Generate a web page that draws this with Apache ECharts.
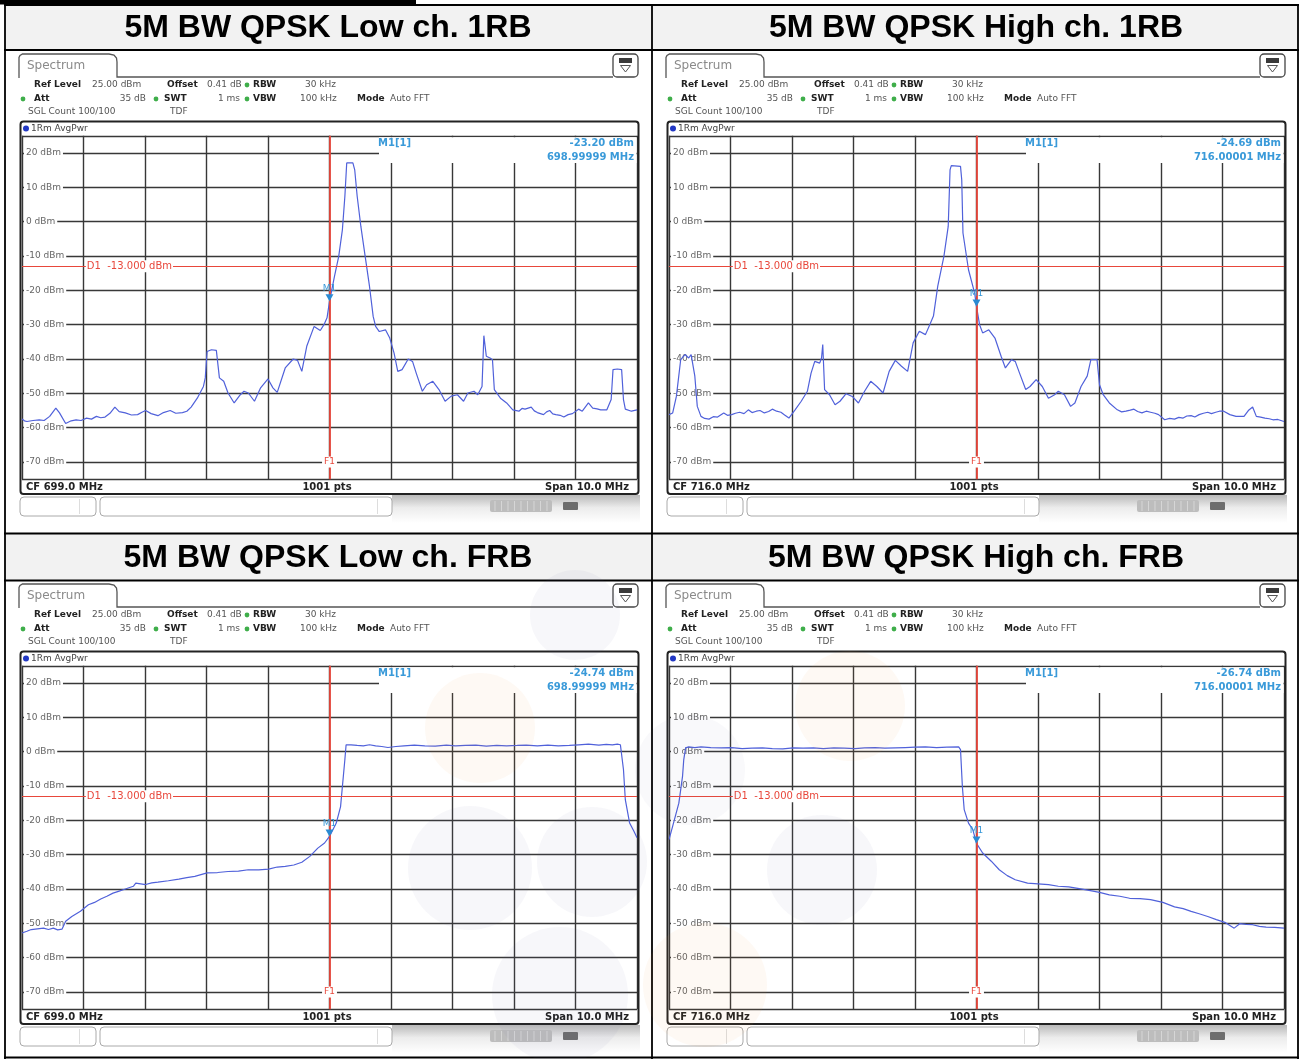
<!DOCTYPE html>
<html><head><meta charset="utf-8">
<script src="https://cdn.jsdelivr.net/npm/echarts@6/dist/echarts.min.js"></script>
<style>html,body{margin:0;padding:0;background:#fff;}#c{width:1301px;height:1059px;}</style>
</head><body><div id="c"></div><script>
// ---------------- data ----------------
const titles = ['5M BW QPSK Low ch. 1RB', '5M BW QPSK High ch. 1RB', '5M BW QPSK Low ch. FRB', '5M BW QPSK High ch. FRB'];
const centerFreqs = [699, 716, 699, 716];
const spanMHz = 10;
const cfLabels = ['CF 699.0 MHz', 'CF 716.0 MHz', 'CF 699.0 MHz', 'CF 716.0 MHz'];
const markerLevels = [-23.20, -24.69, -24.74, -26.74];
const markerFreqLabels = ['698.99999 MHz', '716.00001 MHz', '698.99999 MHz', '716.00001 MHz'];
const limitLevel = -13;
const refLevel = 25;
const bottomLevel = -75;

const traceLow1RB = [[694.00,-57.5],[694.04,-58.0],[694.08,-58.2],[694.18,-57.9],[694.28,-57.7],[694.36,-57.9],[694.45,-56.7],[694.55,-54.3],[694.61,-55.7],[694.71,-58.8],[694.80,-58.0],[694.88,-57.7],[694.96,-57.9],[695.05,-57.2],[695.13,-57.5],[695.21,-56.7],[695.28,-57.1],[695.35,-56.9],[695.43,-55.8],[695.51,-54.0],[695.58,-55.3],[695.68,-55.7],[695.78,-56.3],[695.88,-56.2],[695.95,-55.5],[696.01,-55.0],[696.10,-55.9],[696.21,-56.5],[696.30,-55.6],[696.41,-55.0],[696.50,-55.8],[696.61,-55.6],[696.68,-55.2],[696.75,-54.0],[696.85,-51.4],[696.95,-48.0],[696.98,-45.5],[697.01,-37.8],[697.08,-37.3],[697.16,-37.5],[697.21,-45.5],[697.28,-46.5],[697.35,-49.9],[697.45,-52.8],[697.55,-50.4],[697.61,-49.4],[697.68,-49.9],[697.78,-52.3],[697.88,-48.4],[698.00,-45.8],[698.08,-48.4],[698.15,-49.7],[698.28,-42.6],[698.41,-40.0],[698.48,-40.4],[698.55,-43.6],[698.63,-36.3],[698.75,-30.5],[698.85,-31.7],[698.91,-30.0],[698.96,-28.0],[699.00,-23.2],[699.08,-16.0],[699.15,-10.1],[699.21,-2.3],[699.25,7.4],[699.28,17.1],[699.31,17.3],[699.38,17.1],[699.41,15.1],[699.45,7.4],[699.51,-1.4],[699.58,-10.1],[699.65,-18.8],[699.71,-27.6],[699.75,-30.5],[699.81,-32.0],[699.91,-31.5],[699.98,-33.9],[700.05,-38.3],[700.11,-43.6],[700.18,-43.1],[700.28,-40.0],[700.35,-40.7],[700.41,-44.1],[700.51,-49.4],[700.58,-47.5],[700.68,-46.5],[700.78,-48.9],[700.88,-52.3],[700.98,-50.8],[701.08,-50.4],[701.18,-52.3],[701.25,-49.9],[701.35,-49.4],[701.41,-50.4],[701.48,-48.0],[701.51,-33.2],[701.55,-39.2],[701.61,-39.7],[701.65,-40.2],[701.68,-48.9],[701.78,-51.4],[701.88,-52.8],[701.98,-54.8],[702.08,-55.2],[702.13,-54.4],[702.18,-54.6],[702.28,-54.0],[702.33,-55.1],[702.38,-55.6],[702.48,-56.2],[702.53,-55.4],[702.58,-55.0],[702.63,-56.0],[702.68,-56.2],[702.75,-56.4],[702.81,-56.9],[702.88,-56.2],[702.95,-55.9],[703.05,-54.6],[703.11,-55.2],[703.21,-52.8],[703.28,-54.3],[703.35,-54.5],[703.41,-54.8],[703.51,-54.8],[703.58,-51.8],[703.61,-43.1],[703.68,-42.9],[703.75,-43.1],[703.78,-51.8],[703.81,-54.6],[703.91,-55.2],[704.00,-54.8]];

const traceHigh1RB = [[711.00,-56.2],[711.06,-55.7],[711.12,-50.9],[711.19,-40.2],[711.26,-38.7],[711.32,-39.7],[711.36,-38.7],[711.39,-39.2],[711.42,-45.0],[711.46,-53.8],[711.52,-56.7],[711.58,-57.3],[711.65,-57.5],[711.72,-56.8],[711.79,-56.9],[711.89,-55.7],[711.95,-56.4],[712.02,-56.2],[712.08,-55.8],[712.15,-55.5],[712.22,-55.9],[712.29,-54.8],[712.35,-55.6],[712.42,-55.2],[712.48,-55.0],[712.55,-55.7],[712.62,-55.3],[712.68,-54.6],[712.75,-55.2],[712.82,-55.5],[712.88,-56.3],[712.95,-57.2],[713.05,-54.8],[713.15,-52.3],[713.25,-49.4],[713.31,-44.1],[713.37,-40.7],[713.45,-41.2],[713.48,-39.7],[713.50,-35.8],[713.53,-48.9],[713.61,-50.4],[713.70,-53.3],[713.78,-52.3],[713.88,-50.1],[713.98,-50.9],[714.08,-52.8],[714.18,-49.4],[714.28,-46.5],[714.38,-48.0],[714.48,-49.9],[714.58,-43.6],[714.68,-40.4],[714.78,-42.1],[714.88,-43.6],[714.97,-35.3],[715.07,-31.9],[715.17,-32.9],[715.24,-30.0],[715.30,-27.5],[715.37,-18.8],[715.47,-10.1],[715.54,-1.4],[715.57,15.1],[715.59,16.3],[715.74,16.1],[715.76,12.2],[715.78,-3.3],[715.87,-14.0],[715.97,-20.8],[716.00,-24.7],[716.05,-30.0],[716.10,-32.4],[716.20,-31.5],[716.30,-33.9],[716.40,-39.2],[716.47,-42.6],[716.57,-40.2],[716.63,-40.7],[716.70,-44.1],[716.80,-48.9],[716.87,-48.0],[716.97,-46.0],[717.07,-48.0],[717.17,-51.4],[717.27,-50.4],[717.33,-49.4],[717.43,-50.4],[717.53,-53.8],[717.60,-52.8],[717.70,-48.0],[717.80,-45.0],[717.86,-40.2],[717.96,-40.2],[718.00,-47.5],[718.06,-50.4],[718.16,-52.8],[718.29,-54.8],[718.36,-55.4],[718.43,-55.2],[718.50,-54.9],[718.56,-54.6],[718.62,-55.3],[718.69,-55.7],[718.76,-55.2],[718.83,-55.5],[718.90,-55.8],[718.96,-56.2],[719.06,-57.7],[719.14,-57.3],[719.22,-57.5],[719.29,-57.0],[719.36,-57.2],[719.42,-56.6],[719.49,-56.5],[719.55,-56.9],[719.62,-56.2],[719.69,-55.8],[719.76,-55.5],[719.82,-55.9],[719.89,-55.5],[719.95,-55.2],[720.02,-55.2],[720.12,-56.2],[720.22,-56.7],[720.35,-56.7],[720.42,-55.0],[720.49,-54.0],[720.55,-56.7],[720.62,-56.9],[720.69,-57.2],[720.76,-57.4],[720.82,-57.7],[720.90,-57.6],[721.00,-58.2]];

const traceLowFRB = [[694.00,-52.8],[694.08,-52.3],[694.15,-51.8],[694.25,-51.6],[694.35,-51.4],[694.43,-51.8],[694.51,-51.4],[694.58,-51.9],[694.65,-51.7],[694.71,-49.4],[694.81,-48.0],[694.95,-46.5],[695.08,-44.6],[695.18,-43.9],[695.28,-42.9],[695.38,-42.1],[695.48,-41.2],[695.58,-40.6],[695.68,-40.0],[695.81,-39.2],[695.85,-38.3],[696.01,-38.7],[696.11,-38.2],[696.21,-38.0],[696.38,-37.6],[696.55,-37.1],[696.68,-36.7],[696.81,-36.3],[697.01,-35.3],[697.18,-35.2],[697.35,-34.9],[697.52,-34.8],[697.68,-34.4],[697.85,-34.4],[698.01,-34.2],[698.15,-33.6],[698.28,-33.4],[698.42,-33.0],[698.55,-32.2],[698.68,-30.5],[698.81,-28.1],[698.92,-26.6],[699.00,-24.7],[699.11,-20.8],[699.18,-16.0],[699.21,-10.1],[699.25,-2.3],[699.27,2.0],[699.35,2.0],[699.45,1.8],[699.55,1.7],[699.65,2.0],[699.75,1.7],[699.85,1.5],[699.95,1.2],[700.08,1.5],[700.21,1.7],[700.38,1.9],[700.55,1.7],[700.72,1.6],[700.90,1.9],[701.05,1.7],[701.21,1.8],[701.38,1.9],[701.55,1.6],[701.72,1.8],[701.88,1.7],[702.05,1.8],[702.20,1.9],[702.38,1.7],[702.55,1.9],[702.72,1.7],[702.90,1.8],[703.05,2.0],[703.21,2.2],[703.38,1.9],[703.50,2.1],[703.60,2.0],[703.68,2.2],[703.73,2.0],[703.78,-5.2],[703.81,-14.0],[703.88,-20.8],[703.95,-23.2],[704.00,-25.1]];

const traceHighFRB = [[711.00,-25.6],[711.06,-21.7],[711.16,-15.0],[711.22,-7.2],[711.24,-2.3],[711.27,1.1],[711.32,1.4],[711.42,1.2],[711.52,1.4],[711.68,1.2],[711.85,1.1],[712.02,1.2],[712.19,0.9],[712.35,1.0],[712.52,1.1],[712.68,0.9],[712.85,0.8],[713.02,1.1],[713.18,1.0],[713.35,1.1],[713.51,0.9],[713.68,1.1],[713.85,1.0],[714.02,0.9],[714.18,1.1],[714.35,1.2],[714.51,1.0],[714.68,1.1],[714.84,1.2],[715.00,1.3],[715.17,1.4],[715.35,1.2],[715.52,1.3],[715.71,1.4],[715.74,0.6],[715.77,-10.1],[715.80,-16.9],[715.87,-20.8],[715.94,-22.7],[716.00,-26.7],[716.10,-29.5],[716.24,-31.9],[716.37,-34.4],[716.50,-36.1],[716.63,-37.3],[716.83,-38.3],[717.00,-38.5],[717.17,-38.7],[717.33,-39.2],[717.50,-39.4],[717.67,-39.9],[717.83,-40.4],[718.00,-41.0],[718.16,-41.7],[718.33,-42.1],[718.49,-42.7],[718.66,-42.8],[718.83,-43.1],[719.03,-43.9],[719.22,-45.2],[719.36,-45.7],[719.49,-46.5],[719.62,-47.2],[719.76,-48.0],[719.90,-48.9],[720.05,-49.8],[720.19,-51.4],[720.28,-50.1],[720.38,-50.3],[720.49,-50.4],[720.60,-50.9],[720.71,-51.1],[720.85,-51.2],[721.00,-51.4]];

const traces = [traceLow1RB, traceHigh1RB, traceLowFRB, traceHighFRB];

// ---------------- layout ----------------
const PDX = [0, 647, 0, 647];
const PDY = [0, 0, 530, 530];
const GL = 22, GT = 135.8, GW = 615, GH = 343.4;
const UI = '"DejaVu Sans", sans-serif';
const TRACE = '#5061da', RED = '#e8473b', MBLUE = '#3a9ad9', GRID = '#383838';

function txt(x, y, text, font, fill, align, z) {
  return {type: 'text', x: x, y: y, z: z || 6, style: {text: text, font: font, fill: fill, textAlign: align || 'left', textVerticalAlign: 'middle'}};
}

function panelGroup(i) {
  const c = [];
  const b9 = 'bold 9px ' + UI, n9 = '9px ' + UI;
  c.push({type: 'polyline', z: 6, shape: {points: [[19,78],[19,57.5],[20,55.5],[22.5,54],[109,54],[114,55],[116.5,58],[117,62],[117,77],[613,77]]}, style: {stroke: '#555', lineWidth: 1.3, fill: null}});
  c.push(txt(27, 66, 'Spectrum', '12px ' + UI, '#8a8a8a'));
  c.push({type: 'rect', z: 6, shape: {x: 613, y: 54, width: 25, height: 23, r: 4}, style: {fill: '#fff', stroke: '#444', lineWidth: 1.3}});
  c.push({type: 'rect', z: 7, shape: {x: 619, y: 58, width: 13, height: 5}, style: {fill: '#3a3a3a'}});
  c.push({type: 'polygon', z: 7, shape: {points: [[620.5,65.5],[630.5,65.5],[625.5,72]]}, style: {fill: null, stroke: '#555', lineWidth: 1}});
  c.push(txt(34, 85, 'Ref Level', b9, '#222'));
  c.push(txt(92, 85, '25.00 dBm', n9, '#555'));
  c.push(txt(167, 85, 'Offset', b9, '#222'));
  c.push(txt(207, 85, '0.41 dB', n9, '#555'));
  c.push(txt(253, 85, 'RBW', b9, '#222'));
  c.push(txt(305, 85, '30 kHz', n9, '#555'));
  c.push(txt(34, 99, 'Att', b9, '#222'));
  c.push(txt(146, 99, '35 dB', n9, '#555', 'right'));
  c.push(txt(164, 99, 'SWT', b9, '#222'));
  c.push(txt(240, 99, '1 ms', n9, '#555', 'right'));
  c.push(txt(253, 99, 'VBW', b9, '#222'));
  c.push(txt(300, 99, '100 kHz', n9, '#555'));
  c.push(txt(357, 99, 'Mode', b9, '#222'));
  c.push(txt(390, 99, 'Auto FFT', n9, '#555'));
  c.push(txt(28, 112, 'SGL Count 100/100', n9, '#555'));
  c.push(txt(170, 112, 'TDF', n9, '#555'));
  [[247,85],[23,99],[156,99],[247,99]].forEach(p => c.push({type: 'circle', z: 6, shape: {cx: p[0], cy: p[1], r: 2.4}, style: {fill: '#3fae4a'}}));
  c.push({type: 'rect', z: 8, shape: {x: 20.5, y: 121.5, width: 618, height: 372.5, r: 3}, style: {fill: null, stroke: '#222', lineWidth: 2}});
  c.push({type: 'circle', z: 6, shape: {cx: 26, cy: 128.5, r: 3}, style: {fill: '#2238c4'}});
  c.push(txt(31, 128.5, '1Rm AvgPwr', n9, '#444'));
  c.push({type: 'rect', z: 1, shape: {x: 379, y: 137.2, width: 257.5, height: 25.8}, style: {fill: '#fff'}});
  c.push(txt(378, 143.5, 'M1[1]', 'bold 10px ' + UI, MBLUE));
  c.push(txt(634, 143.5, markerLevels[i].toFixed(2) + ' dBm', 'bold 10px ' + UI, MBLUE, 'right'));
  c.push(txt(634, 157, markerFreqLabels[i], 'bold 10px ' + UI, MBLUE, 'right'));
  c.push(txt(26, 487, cfLabels[i], 'bold 10px ' + UI, '#222'));
  c.push(txt(327, 487, '1001 pts', 'bold 10px ' + UI, '#222', 'center'));
  c.push(txt(629, 487, 'Span ' + spanMHz.toFixed(1) + ' MHz', 'bold 10px ' + UI, '#222', 'right'));
  c.push({type: 'rect', z: 5, shape: {x: 392, y: 495, width: 248, height: 28}, style: {fill: {type: 'linear', x: 0, y: 0, x2: 0, y2: 1, colorStops: [{offset: 0, color: '#b9b9b9'}, {offset: 0.45, color: '#ececec'}, {offset: 1, color: '#ffffff'}]}}});
  c.push({type: 'rect', z: 6, shape: {x: 20, y: 497, width: 76, height: 19, r: 4}, style: {fill: '#fff', stroke: '#aaa', lineWidth: 1}});
  c.push({type: 'line', z: 6, shape: {x1: 79.5, y1: 499, x2: 79.5, y2: 514}, style: {stroke: '#ddd', lineWidth: 1}});
  c.push({type: 'rect', z: 6, shape: {x: 100, y: 497, width: 292, height: 19, r: 4}, style: {fill: '#fff', stroke: '#aaa', lineWidth: 1}});
  c.push({type: 'line', z: 6, shape: {x1: 377.5, y1: 499, x2: 377.5, y2: 514}, style: {stroke: '#ddd', lineWidth: 1}});
  c.push({type: 'rect', z: 6, shape: {x: 490, y: 500, width: 62, height: 12, r: 2}, style: {fill: '#bdbdbd'}});
  for (let k = 0; k < 9; k++) c.push({type: 'line', z: 7, shape: {x1: 495 + k * 6.5, y1: 501, x2: 495 + k * 6.5, y2: 511}, style: {stroke: '#d6d6d6', lineWidth: 1}});
  c.push({type: 'rect', z: 6, shape: {x: 563, y: 502, width: 15, height: 8, r: 1}, style: {fill: '#6d6d6d'}});
  return {type: 'group', x: PDX[i], y: PDY[i], children: c};
}

const page = [];
page.push({type: 'rect', z: 3, shape: {x: 0, y: 0, width: 416, height: 4.5}, style: {fill: '#000'}});
page.push({type: 'rect', z: 0, shape: {x: 5, y: 5, width: 1293, height: 45}, style: {fill: '#f2f2f2'}});
page.push({type: 'rect', z: 0, shape: {x: 5, y: 534, width: 1293, height: 46}, style: {fill: '#f2f2f2'}});
[5, 50, 533.5, 580.5, 1057.5].forEach(y => page.push({type: 'line', z: 3, shape: {x1: 4, y1: y, x2: 1299, y2: y}, style: {stroke: '#000', lineWidth: 1.8}}));
[5, 652, 1298].forEach(x => page.push({type: 'line', z: 3, shape: {x1: x, y1: 4, x2: x, y2: 1059}, style: {stroke: '#000', lineWidth: 1.8}}));
[[328, 28], [976, 28], [328, 558], [976, 558]].forEach((p, i) => page.push(txt(p[0], p[1], titles[i], 'bold 32px "Liberation Sans", Arial, sans-serif', '#000', 'center', 3)));
const wm = [[575,615,45,'rgba(90,100,160,0.05)'],[480,728,55,'rgba(240,160,70,0.06)'],[470,868,62,'rgba(90,100,160,0.05)'],[592,862,55,'rgba(90,100,160,0.05)'],[560,995,68,'rgba(90,100,160,0.05)'],
            [850,706,55,'rgba(240,160,70,0.06)'],[690,770,55,'rgba(90,100,160,0.04)'],[822,870,55,'rgba(90,100,160,0.05)'],[705,985,62,'rgba(240,160,70,0.06)']];
wm.forEach(w => page.push({type: 'circle', z: 20, silent: true, shape: {cx: w[0], cy: w[1], r: w[2]}, style: {fill: w[3]}}));

const grids = [], xAxes = [], yAxes = [], series = [];
for (let i = 0; i < 4; i++) {
  grids.push({left: GL + PDX[i], top: GT + PDY[i], width: GW, height: GH});
  xAxes.push({type: 'value', gridIndex: i, min: centerFreqs[i] - spanMHz / 2, max: centerFreqs[i] + spanMHz / 2, splitNumber: 10,
    axisLine: {show: false}, axisTick: {show: false}, axisLabel: {show: false},
    splitLine: {show: true, lineStyle: {color: GRID, width: 1.4}}});
  yAxes.push({type: 'value', gridIndex: i, min: bottomLevel, max: refLevel, splitNumber: 10,
    axisLine: {show: false}, axisTick: {show: false},
    axisLabel: {inside: true, margin: 2, showMinLabel: false, showMaxLabel: false, color: '#666', fontSize: 9, fontFamily: 'DejaVu Sans',
      backgroundColor: '#fff', padding: [1, 2], formatter: v => v + ' dBm'},
    splitLine: {show: true, lineStyle: {color: GRID, width: 1.4}}});
  series.push({type: 'line', xAxisIndex: i, yAxisIndex: i, data: traces[i], showSymbol: false, symbol: 'none', clip: true,
    lineStyle: {color: TRACE, width: 1.2}, z: 3, silent: true,
    markLine: {silent: true, symbol: ['none', 'none'], animation: false, label: {show: false},
      data: [{yAxis: limitLevel, lineStyle: {color: RED, width: 1.2, type: 'solid'}},
             {xAxis: centerFreqs[i], lineStyle: {color: RED, width: 1.8, type: 'solid'}}]},
    markPoint: {silent: true, animation: false, data: [
      {coord: [centerFreqs[i], markerLevels[i]], symbol: 'triangle', symbolRotate: 180, symbolSize: [8, 7], symbolOffset: [0, -3.5],
        itemStyle: {color: '#2a8ad2'}, label: {show: true, position: 'top', distance: 1, formatter: 'M1', color: MBLUE, fontSize: 9, fontFamily: 'DejaVu Sans'}},
      {coord: [centerFreqs[i] - spanMHz / 2 + 1.03, limitLevel], symbol: 'rect', symbolSize: 1, itemStyle: {color: 'rgba(0,0,0,0)'},
        label: {show: true, position: 'right', distance: 0, formatter: 'D1  ' + limitLevel.toFixed(3) + ' dBm', color: RED, fontSize: 10, fontFamily: 'DejaVu Sans', backgroundColor: '#fff', padding: [1, 1]}},
      {coord: [centerFreqs[i], bottomLevel + 5], symbol: 'rect', symbolSize: 1, itemStyle: {color: 'rgba(0,0,0,0)'},
        label: {show: true, position: 'inside', formatter: 'F1', color: RED, fontSize: 9, fontFamily: 'DejaVu Sans', backgroundColor: '#fff', padding: [1, 2]}}
    ]}});
}

const chart = echarts.init(document.getElementById('c'), null, {renderer: 'canvas'});
chart.setOption({
  animation: false,
  backgroundColor: '#fff',
  graphic: {elements: page.concat([0, 1, 2, 3].map(panelGroup))},
  grid: grids, xAxis: xAxes, yAxis: yAxes, series: series
});
</script></body></html>
